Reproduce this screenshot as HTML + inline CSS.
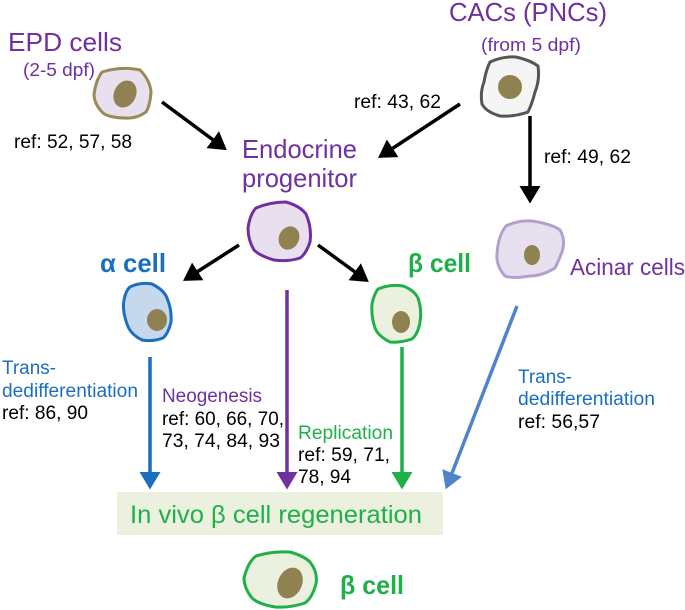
<!DOCTYPE html>
<html><head><meta charset="utf-8"><style>
html,body{margin:0;padding:0;background:#fff;}
svg{display:block;font-family:"Liberation Sans",sans-serif;}
text{}
</style></head><body>
<svg width="685" height="610" viewBox="0 0 685 610" xmlns="http://www.w3.org/2000/svg">
<defs>
<marker id="ak" markerWidth="6" markerHeight="6" refX="4" refY="3" orient="auto" markerUnits="strokeWidth"><path d="M0,0 L5,3 L0,6 Z" fill="#000"/></marker>
<marker id="ab" markerWidth="6" markerHeight="6" refX="4" refY="3" orient="auto" markerUnits="strokeWidth"><path d="M0,0 L5,3 L0,6 Z" fill="#1a6fc0"/></marker>
<marker id="ap" markerWidth="6" markerHeight="6" refX="4" refY="3" orient="auto" markerUnits="strokeWidth"><path d="M0,0 L5,3 L0,6 Z" fill="#7030a0"/></marker>
<marker id="ag" markerWidth="6" markerHeight="6" refX="4" refY="3" orient="auto" markerUnits="strokeWidth"><path d="M0,0 L5,3 L0,6 Z" fill="#1fb04a"/></marker>
<marker id="al" markerWidth="6" markerHeight="6" refX="4" refY="3" orient="auto" markerUnits="strokeWidth"><path d="M0,0 L5,3 L0,6 Z" fill="#4f85c8"/></marker>
</defs>

<g stroke-width="3" stroke-linejoin="round">
<path d="M102,72 Q122,66 140,70 Q150,80 151,92 Q150,106 146,112 Q136,119 126,118 Q110,118 103,113 Q94,104 94,94 Q96,80 102,72 Z" fill="#e8e0ee" stroke="#9a8a55"/>
<path d="M490,62 Q503,56 516,57 Q530,60 538,66 Q540,80 535,92 Q532,104 528,112 Q514,117 500,116 Q486,112 482,104 Q480,92 484,82 Q486,70 490,62 Z" fill="#f5f5f5" stroke="#555"/>
<path d="M256,208 Q270,202 286,202 Q300,206 306,214 Q312,228 310,242 Q306,254 300,258 Q288,262 274,260 Q260,256 254,250 Q248,240 248,228 Q250,214 256,208 Z" fill="#e8e0ee" stroke="#7030a0"/>
<path d="M506,226 Q518,220 532,221 Q552,224 560,230 Q566,240 562,252 Q558,262 555,268 Q542,276 530,276 Q512,279 505,276 Q496,266 497,254 Q498,236 506,226 Z" fill="#e6e0ef" stroke="#b3a0cf"/>
<path d="M130,287 Q140,282 152,284 Q164,290 167,298 Q172,310 171,322 Q168,334 163,338 Q152,342 142,340 Q130,334 127,324 Q122,310 124,300 Q126,290 130,287 Z" fill="#c5d8ee" stroke="#1a6fc0"/>
<path d="M378,289 Q390,284 403,286 Q414,290 418,298 Q422,310 420,322 Q418,334 412,339 Q400,343 390,342 Q378,336 375,328 Q371,316 372,304 Q374,294 378,289 Z" fill="#ebf1de" stroke="#1fb04a"/>
<path d="M256,556 Q272,551 290,552 Q304,556 310,562 Q318,572 316,584 Q312,598 305,603 Q290,608 275,607 Q258,604 252,598 Q244,588 244,578 Q248,562 256,556 Z" fill="#ebf1de" stroke="#1fb04a"/>
</g>
<ellipse cx="125" cy="94" rx="11" ry="14" transform="rotate(25 125 94)" fill="#8f8150"/>
<ellipse cx="510" cy="87" rx="12" ry="12" fill="#8f8150"/>
<ellipse cx="289" cy="238" rx="10" ry="12" transform="rotate(25 289 238)" fill="#8f8150"/>
<ellipse cx="532" cy="255" rx="8" ry="10" fill="#8f8150"/>
<ellipse cx="157" cy="320" rx="10" ry="11" fill="#8f8150"/>
<ellipse cx="401" cy="322" rx="9" ry="11" fill="#8f8150"/>
<ellipse cx="290" cy="583" rx="12" ry="16" transform="rotate(25 290 583)" fill="#8f8150"/>

<g stroke-width="3.5" fill="none">
<line x1="162" y1="102" x2="224" y2="148" stroke="#000" marker-end="url(#ak)"/>
<line x1="460" y1="104" x2="381" y2="156" stroke="#000" marker-end="url(#ak)"/>
<line x1="530" y1="116" x2="530" y2="200" stroke="#000" marker-end="url(#ak)"/>
<line x1="239" y1="245" x2="186" y2="279" stroke="#000" marker-end="url(#ak)"/>
<line x1="318" y1="245" x2="366" y2="280" stroke="#000" marker-end="url(#ak)"/>
<line x1="150" y1="357" x2="150" y2="486" stroke="#1a6fc0" marker-end="url(#ab)"/>
<line x1="287" y1="290" x2="287" y2="486" stroke="#7030a0" marker-end="url(#ap)"/>
<line x1="402" y1="347" x2="402" y2="486" stroke="#1fb04a" marker-end="url(#ag)"/>
<line x1="517" y1="306" x2="447" y2="486" stroke="#4f85c8" marker-end="url(#al)"/>
</g>

<rect x="117" y="492" width="326" height="43" fill="#ebf1de"/>

<g lengthAdjust="spacingAndGlyphs">
<g fill="#7030a0">
<text x="8" y="51" font-size="26" textLength="114" lengthAdjust="spacingAndGlyphs">EPD cells</text>
<text x="23" y="76" font-size="18" textLength="72" lengthAdjust="spacingAndGlyphs">(2-5 dpf)</text>
<text x="449" y="21" font-size="26" textLength="158" lengthAdjust="spacingAndGlyphs">CACs (PNCs)</text>
<text x="481" y="51" font-size="18" textLength="100" lengthAdjust="spacingAndGlyphs">(from 5 dpf)</text>
<text x="242" y="158" font-size="26" textLength="115" lengthAdjust="spacingAndGlyphs">Endocrine</text>
<text x="242" y="187" font-size="26" textLength="115" lengthAdjust="spacingAndGlyphs">progenitor</text>
<text x="570" y="275" font-size="23" textLength="115" lengthAdjust="spacingAndGlyphs">Acinar cells</text>
<text x="162" y="402" font-size="19" textLength="100" lengthAdjust="spacingAndGlyphs">Neogenesis</text>
</g>
<g fill="#000" font-size="19">
<text x="354" y="108" textLength="87" lengthAdjust="spacingAndGlyphs">ref: 43, 62</text>
<text x="14" y="148" textLength="118" lengthAdjust="spacingAndGlyphs">ref: 52, 57, 58</text>
<text x="544" y="163" textLength="87" lengthAdjust="spacingAndGlyphs">ref: 49, 62</text>
<text x="2" y="419" textLength="86" lengthAdjust="spacingAndGlyphs">ref: 86, 90</text>
<text x="162" y="425" textLength="122" lengthAdjust="spacingAndGlyphs">ref: 60, 66, 70,</text>
<text x="162" y="447" textLength="118" lengthAdjust="spacingAndGlyphs">73, 74, 84, 93</text>
<text x="298" y="461" textLength="92" lengthAdjust="spacingAndGlyphs">ref: 59, 71,</text>
<text x="298" y="483" textLength="53" lengthAdjust="spacingAndGlyphs">78, 94</text>
<text x="518" y="428" textLength="82" lengthAdjust="spacingAndGlyphs">ref: 56,57</text>
</g>
<g fill="#1a6fc0" font-size="19">
<text x="2" y="374" textLength="54" lengthAdjust="spacingAndGlyphs">Trans-</text>
<text x="2" y="397" textLength="136" lengthAdjust="spacingAndGlyphs">dedifferentiation</text>
<text x="518" y="383" textLength="54" lengthAdjust="spacingAndGlyphs">Trans-</text>
<text x="518" y="405" textLength="137" lengthAdjust="spacingAndGlyphs">dedifferentiation</text>
</g>
<text x="100" y="272" font-size="26" font-weight="bold" fill="#1a6fc0" textLength="66" lengthAdjust="spacingAndGlyphs">α cell</text>
<g fill="#1fb04a">
<text x="408" y="272" font-size="26" font-weight="bold" textLength="63" lengthAdjust="spacingAndGlyphs">β cell</text>
<text x="298" y="439" font-size="19" textLength="95" lengthAdjust="spacingAndGlyphs">Replication</text>
<text x="130" y="523" font-size="25" textLength="292" lengthAdjust="spacingAndGlyphs">In vivo β cell regeneration</text>
<text x="340" y="594" font-size="26" font-weight="bold" textLength="64" lengthAdjust="spacingAndGlyphs">β cell</text>
</g>
</g>
</svg>
</body></html>
